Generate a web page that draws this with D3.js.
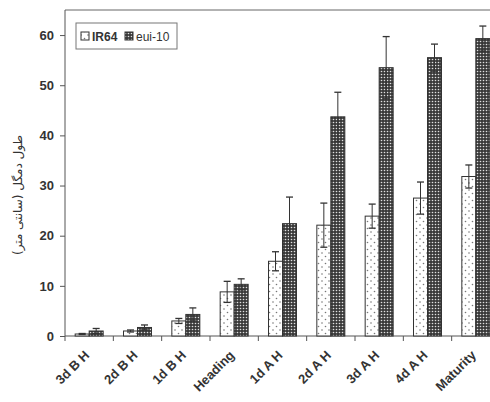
<!DOCTYPE html>
<html>
<head>
<meta charset="utf-8">
<script src="https://cdn.jsdelivr.net/npm/d3@7"></script>
<style>
  body { margin: 0; background: #fff; }
  text { font-family: "Liberation Sans", Arial, sans-serif; }
</style>
</head>
<body>
<div id="chart"></div>
<script>
// data
const stages = ["3d B H", "2d B H", "1d B H", "Heading", "1d A H", "2d A H", "3d A H", "4d A H", "Maturity"]
const ir64 = [0.4, 1.0, 3.0, 8.8, 14.9, 22.1, 23.9, 27.5, 31.8]
const ir64Err = [0.1, 0.2, 0.5, 2.1, 1.9, 4.4, 2.4, 3.2, 2.3]
const eui10 = [1.0, 1.7, 4.3, 10.3, 22.4, 43.7, 53.5, 55.5, 59.3]
const eui10Err = [0.5, 0.5, 1.3, 1.1, 5.3, 4.9, 6.2, 2.7, 2.5]
const yTicks = [0, 10, 20, 30, 40, 50, 60]

const W = 490, H = 402
const margin = { top: 10, right: -10, bottom: 66, left: 65 }
const w = W - margin.left - margin.right
const h = H - margin.top - margin.bottom

const svg = d3.select("#chart").append("svg")
  .attr("width", W).attr("height", H)

const defs = svg.append("defs")
// sparse dotted pattern for IR64
const p1 = defs.append("pattern").attr("id", "pIR").attr("patternUnits", "userSpaceOnUse")
  .attr("width", 7).attr("height", 7)
p1.append("rect").attr("width", 7).attr("height", 7).attr("fill", "#fff")
p1.append("circle").attr("cx", 1.5).attr("cy", 1.5).attr("r", 0.8).attr("fill", "#777")
p1.append("circle").attr("cx", 5).attr("cy", 5).attr("r", 0.8).attr("fill", "#777")
// dense checker pattern for eui-10
const p2 = defs.append("pattern").attr("id", "pEUI").attr("patternUnits", "userSpaceOnUse")
  .attr("width", 3).attr("height", 3)
p2.append("rect").attr("width", 3).attr("height", 3).attr("fill", "#3a3a3a")
p2.append("circle").attr("cx", 1.5).attr("cy", 1.5).attr("r", 0.8).attr("fill", "#e0e0e0")

const g = svg.append("g").attr("transform", `translate(${margin.left},${margin.top})`)

const x = d3.scaleBand().domain(stages).range([0, w]).paddingInner(0).paddingOuter(0)
const y = d3.scaleLinear().domain([0, 65]).range([h, 0])
const barW = 14

// frame top line
g.append("line").attr("x1", 0).attr("x2", W).attr("y1", 0).attr("y2", 0)
  .attr("stroke", "#666").attr("stroke-width", 1)

// y axis
const yAx = g.append("g").call(d3.axisLeft(y).tickValues(yTicks).tickSize(5).tickPadding(6))
yAx.select(".domain").attr("stroke", "#555").attr("d", `M0,${h}V0`)
yAx.selectAll(".tick line").attr("stroke", "#555")
yAx.selectAll("text").attr("font-size", 13).attr("font-weight", "bold").attr("fill", "#333")

// x axis: ticks at category boundaries
g.append("line").attr("x1", 0).attr("x2", w).attr("y1", h).attr("y2", h)
  .attr("stroke", "#555")
g.selectAll(".xt").data(stages).enter().append("line")
  .attr("x1", d => x(d)).attr("x2", d => x(d))
  .attr("y1", h).attr("y2", h + 5).attr("stroke", "#555")
g.selectAll(".xl").data(stages).enter().append("text")
  .attr("transform", d => `translate(${x(d) + x.bandwidth() / 2 + 1},${h + 20}) rotate(-45)`)
  .attr("text-anchor", "end")
  .attr("font-size", 13).attr("font-weight", "bold").attr("fill", "#333")
  .text(d => d)

const series = [
  { vals: ir64, errs: ir64Err, fill: "url(#pIR)", off: -barW },
  { vals: eui10, errs: eui10Err, fill: "url(#pEUI)", off: 0 }
]

series.forEach(s => {
  const cx = (d, i) => x(stages[i]) + x.bandwidth() / 2 + s.off
  g.selectAll(null).data(s.vals).enter().append("rect")
    .attr("x", (d, i) => cx(d, i))
    .attr("y", d => y(d))
    .attr("width", barW)
    .attr("height", d => h - y(d))
    .attr("fill", s.fill)
    .attr("stroke", "#333").attr("stroke-width", 1)
  // error bars
  const eb = g.selectAll(null).data(s.vals).enter().append("g")
    .attr("transform", (d, i) => `translate(${cx(d, i) + barW / 2},0)`)
  eb.append("line")
    .attr("y1", (d, i) => y(d - s.errs[i])).attr("y2", (d, i) => y(d + s.errs[i]))
    .attr("stroke", "#333").attr("stroke-width", 1)
  eb.append("line").attr("x1", -3.5).attr("x2", 3.5)
    .attr("y1", (d, i) => y(d + s.errs[i])).attr("y2", (d, i) => y(d + s.errs[i]))
    .attr("stroke", "#333").attr("stroke-width", 1.3)
  eb.append("line").attr("x1", -3.5).attr("x2", 3.5)
    .attr("y1", (d, i) => y(d - s.errs[i])).attr("y2", (d, i) => y(d - s.errs[i]))
    .attr("stroke", "#333").attr("stroke-width", 1.3)
})

// legend
const lg = svg.append("g").attr("transform", "translate(76,23)")
lg.append("rect").attr("width", 101).attr("height", 26)
  .attr("fill", "#fff").attr("stroke", "#777")
lg.append("rect").attr("x", 5).attr("y", 9).attr("width", 8).attr("height", 8)
  .attr("fill", "url(#pIR)").attr("stroke", "#333")
lg.append("text").attr("x", 16).attr("y", 17.5).attr("font-size", 12).attr("font-weight", "bold")
  .attr("fill", "#333").text("IR64")
lg.append("rect").attr("x", 49).attr("y", 9).attr("width", 8).attr("height", 8)
  .attr("fill", "url(#pEUI)").attr("stroke", "#333")
lg.append("text").attr("x", 60).attr("y", 17.5).attr("font-size", 12)
  .attr("fill", "#333").text("eui-10")

// y axis title (Persian)
svg.append("text")
  .attr("transform", "translate(22,195) rotate(-90)")
  .attr("text-anchor", "middle")
  .attr("font-size", 12).attr("fill", "#333")
  .attr("style", "font-family: 'DejaVu Sans', sans-serif")
  .text("طول دمگل (سانتی متر)")
</script>
</body>
</html>
